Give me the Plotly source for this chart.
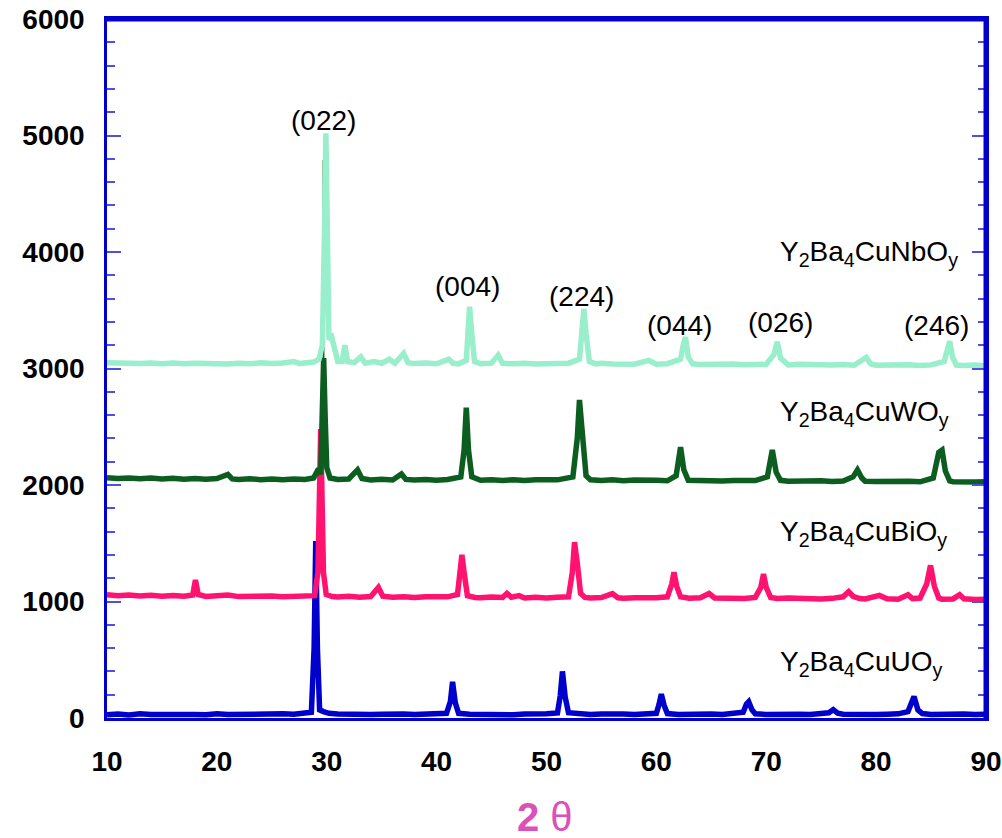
import plotly.graph_objects as go

# ---------------- data (2θ, counts) ----------------
U_points = [(10,28),(11,34),(12,26),(13,36),(14,30),(15,33),(16,27),(17,35),(18,31),(19,28),(20,36),(21,30),(22,33),(23,29),(24,35),(25,31),(26,36),(27,33),(28,38),(28.6,50),(28.85,600),(29.0,1520),(29.15,600),(29.35,70),(29.7,55),(30.2,40),(31,34),(32,30),(33,35),(34,29),(35,33),(36,28),(37,34),(38,30),(39,35),(40,32),(40.9,40),(41.25,140),(41.45,310),(41.7,130),(42,40),(43,33),(44,29),(45,35),(46,31),(47,28),(48,34),(49,31),(50,37),(51,44),(51.25,190),(51.45,400),(51.7,180),(52,45),(53,34),(54,30),(55,35),(56,29),(57,34),(58,31),(59,35),(60,40),(60.25,120),(60.45,205),(60.7,110),(61,38),(62,31),(63,35),(64,29),(65,34),(66,30),(67,35),(67.9,50),(68.2,120),(68.4,140),(68.7,70),(69,36),(70,30),(71,34),(72,29),(73,33),(74,30),(75,35),(75.7,45),(76.1,72),(76.5,42),(77,33),(78,29),(79,34),(80,30),(81,33),(82,36),(82.9,55),(83.3,170),(83.45,185),(83.8,70),(84.2,38),(85,31),(86,35),(87,30),(88,34),(89,30),(90,32)]

Bi_points = [(10,1058),(11,1050),(12,1056),(13,1048),(14,1054),(15,1046),(16,1052),(17,1045),(17.8,1055),(18.05,1185),(18.3,1060),(18.7,1045),(19,1044),(20,1050),(21,1055),(22,1042),(23,1046),(24,1040),(25,1047),(26,1041),(27,1045),(28,1040),(28.9,1050),(29.2,1250),(29.45,2480),(29.7,1250),(29.95,1060),(30.5,1042),(31,1038),(32,1044),(33,1036),(34,1042),(34.7,1120),(35.1,1045),(36,1036),(37,1040),(38,1034),(39,1040),(40,1035),(41,1040),(41.9,1060),(42.15,1300),(42.3,1400),(42.5,1250),(42.8,1050),(43.5,1035),(44,1032),(45,1038),(46,1035),(46.4,1070),(46.8,1036),(47.5,1050),(48,1030),(49,1036),(50,1030),(51,1036),(52,1040),(52.35,1250),(52.55,1510),(52.8,1330),(53.1,1070),(53.5,1035),(54,1030),(55,1034),(56,1068),(56.5,1032),(57,1028),(58,1033),(59,1027),(60,1032),(61,1040),(61.4,1150),(61.6,1250),(61.85,1130),(62.2,1040),(63,1028),(64,1032),(64.8,1068),(65.3,1030),(66,1026),(67,1031),(68,1025),(69,1035),(69.5,1120),(69.75,1235),(70.0,1120),(70.4,1035),(71,1026),(72,1030),(73,1024),(74,1028),(75,1022),(76,1027),(77,1040),(77.5,1085),(77.9,1045),(78.5,1025),(79,1022),(80.3,1052),(81,1023),(82,1020),(82.9,1058),(83.3,1025),(84,1030),(84.6,1150),(84.95,1310),(85.3,1130),(85.7,1030),(86,1020),(87,1022),(87.6,1058),(88,1024),(89,1018),(90,1020)]

W_points = [(10,2062),(11,2055),(12,2061),(13,2053),(14,2059),(15,2051),(16,2057),(17,2050),(18,2056),(19,2049),(20,2055),(21.0,2090),(21.4,2052),(22,2048),(23,2054),(24,2046),(25,2052),(26,2045),(27,2051),(28,2047),(28.8,2060),(29.25,2140),(29.45,2090),(29.6,2600),(29.72,3090),(29.85,2600),(30.0,2150),(30.3,2060),(31,2048),(32,2052),(32.8,2130),(33.2,2055),(34,2044),(35,2050),(36,2043),(36.8,2095),(37.2,2048),(38,2042),(39,2048),(40,2041),(41,2047),(42.2,2070),(42.5,2300),(42.7,2665),(42.9,2300),(43.2,2070),(44,2040),(45,2046),(46,2039),(47,2045),(48,2038),(49,2044),(50,2040),(51,2044),(52.4,2070),(52.8,2400),(53.0,2730),(53.25,2400),(53.6,2080),(54,2045),(55,2038),(56,2044),(57,2037),(58,2042),(59,2036),(60,2041),(61,2036),(61.8,2080),(62.2,2325),(62.5,2130),(62.9,2040),(64,2035),(65,2040),(66,2034),(67,2039),(68,2033),(69,2038),(70.1,2070),(70.55,2300),(70.9,2110),(71.3,2040),(72,2032),(73,2037),(74,2031),(75,2036),(76,2030),(77,2035),(77.9,2070),(78.3,2130),(78.7,2060),(79,2032),(80,2030),(81,2034),(82,2028),(83,2033),(84,2027),(85.2,2060),(85.7,2280),(86.0,2300),(86.3,2120),(86.7,2035),(87,2028),(88,2032),(89,2026),(90,2028)]
W_tip_points = [(29.70,3000),(29.71,4790)]

Nb_points = [(10,3050),(11,3044),(12,3049),(13,3042),(14,3048),(15,3041),(16,3047),(17,3040),(18,3046),(19,3040),(20,3045),(21,3039),(22,3045),(23,3040),(24,3050),(25,3042),(26,3047),(27,3060),(27.5,3044),(28,3048),(28.8,3055),(29.3,3080),(29.6,3200),(29.8,4200),(29.92,5020),(30.05,4200),(30.2,3250),(30.45,3270),(30.7,3150),(31,3060),(31.4,3060),(31.65,3200),(31.9,3060),(32.5,3050),(33.1,3100),(33.5,3045),(34.3,3060),(35,3045),(35.7,3080),(36.2,3045),(37.0,3130),(37.4,3050),(38,3042),(39,3048),(40,3041),(41.1,3080),(41.5,3045),(42,3040),(42.7,3070),(42.85,3300),(43.0,3530),(43.2,3300),(43.45,3060),(44,3042),(45,3046),(45.6,3115),(46,3045),(47,3040),(48,3046),(49,3038),(50,3044),(51,3040),(52,3046),(53.0,3080),(53.2,3300),(53.4,3510),(53.6,3300),(53.9,3060),(54.5,3040),(55,3045),(56,3038),(57,3043),(58,3037),(59.3,3070),(60,3036),(61,3041),(62.2,3080),(62.45,3200),(62.65,3270),(62.9,3100),(63.3,3040),(64,3035),(65,3040),(66,3034),(67,3039),(68,3033),(69,3038),(70,3036),(70.7,3120),(71.0,3230),(71.3,3090),(71.8,3035),(72,3030),(73,3036),(74,3030),(75,3035),(76,3029),(77,3034),(78,3028),(79.1,3095),(79.5,3040),(80,3028),(81,3033),(82,3027),(83,3032),(84,3026),(85,3031),(86.2,3060),(86.5,3200),(86.7,3235),(86.95,3100),(87.3,3030),(88,3025),(89,3030),(90,3022)]

# peak (hkl) labels: text, 2θ, height
hkl_labels = ["(022)", "(004)", "(224)", "(044)", "(026)", "(246)"]
hkl_x = [29.7, 42.8, 53.2, 62.1, 71.3, 85.5]
hkl_y = [5125, 3708, 3622, 3365, 3391, 3365]

# compound labels
compound_labels = ["Y<sub>2</sub>Ba<sub>4</sub>CuNbO<sub>y</sub>",
                   "Y<sub>2</sub>Ba<sub>4</sub>CuWO<sub>y</sub>",
                   "Y<sub>2</sub>Ba<sub>4</sub>CuBiO<sub>y</sub>",
                   "Y<sub>2</sub>Ba<sub>4</sub>CuUO<sub>y</sub>"]
compound_x = [71.1, 71.1, 71.1, 71.1]
compound_y = [3983, 2610, 1588, 472]

x_ticks = [10, 20, 30, 40, 50, 60, 70, 80, 90]
y_ticks = [0, 1000, 2000, 3000, 4000, 5000, 6000]

# ---------------- styling ----------------
C_U = "#0000CC"
C_Bi = "#FF1270"
C_W = "#0B5E1F"
C_Nb = "#99EECC"
AXIS = "#0000CC"
TICK = "#5050E0"
FONT = "Arial, Liberation Sans, sans-serif"


def split(points):
    return [p[0] for p in points], [p[1] for p in points]


fig = go.Figure()
for pts, col, w in [(U_points, C_U, 5.5), (Bi_points, C_Bi, 5.5), (W_points, C_W, 5.5),
                    (W_tip_points, C_W, 2), (Nb_points, C_Nb, 5.5)]:
    xs, ys = split(pts)
    fig.add_trace(go.Scatter(x=xs, y=ys, mode="lines",
                             line=dict(color=col, width=w), showlegend=False,
                             hoverinfo="skip"))

annotations = []
for t, x, y in zip(hkl_labels, hkl_x, hkl_y):
    annotations.append(dict(x=x, y=y, xref="x", yref="y", text=t, showarrow=False,
                            font=dict(family=FONT, size=28, color="black"),
                            xanchor="center", yanchor="middle"))
for t, x, y in zip(compound_labels, compound_x, compound_y):
    annotations.append(dict(x=x, y=y, xref="x", yref="y", text=t, showarrow=False,
                            font=dict(family=FONT, size=28, color="black"),
                            xanchor="left", yanchor="middle"))
annotations.append(dict(x=0.498, y=-0.142, xref="paper", yref="paper",
                        text="<b>2</b> θ",
                        showarrow=False, xanchor="center", yanchor="middle",
                        font=dict(family=FONT, size=40, color="#DC50B9")))

fig.update_layout(
    width=1002, height=838, autosize=False,
    margin=dict(l=107, r=16, t=19, b=120, autoexpand=False),
    paper_bgcolor="white", plot_bgcolor="white",
    annotations=annotations,
    xaxis=dict(range=[10, 90], tickvals=x_ticks, ticktext=[str(v) for v in x_ticks],
               showgrid=False, zeroline=False, ticks="", automargin=False,
               showline=True, linecolor=AXIS, linewidth=3, mirror=True,
               tickfont=dict(family=FONT, size=28, color="black", weight="bold"),
               ticklabelstandoff=16),
    yaxis=dict(range=[0, 6000], tickvals=y_ticks, ticktext=[str(v) for v in y_ticks],
               showgrid=False, zeroline=False, automargin=False,
               ticks="inside", ticklen=14, tickwidth=2, tickcolor=TICK,
               minor=dict(ticks="inside", ticklen=8, tickwidth=2, tickcolor=TICK, dtick=200),
               showline=True, linecolor=AXIS, linewidth=2.5, mirror="ticks",
               tickfont=dict(family=FONT, size=28, color="black", weight="bold"),
               ticklabelstandoff=14),
    shapes=[
        dict(type="line", xref="paper", yref="paper", x0=0, x1=1, y0=1, y1=1,
             line=dict(color=AXIS, width=5)),
        dict(type="line", xref="paper", yref="paper", x0=1, x1=1, y0=0, y1=1,
             line=dict(color=AXIS, width=5)),
    ],
)

fig.write_html("out.html", config={"displayModeBar": False},
               post_script="document.body.style.margin='0';")
